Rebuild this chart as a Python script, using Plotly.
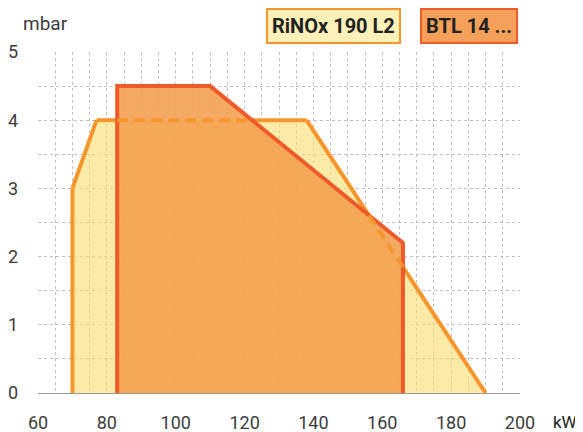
import plotly.graph_objects as go

# ---- data ----
rinox_name = "RiNOx 190 L2"
rinox_kw = [70, 70, 77, 138, 190]
rinox_mbar = [0, 3, 4, 4, 0]

btl_name = "BTL 14 ..."
btl_kw = [83, 83, 110, 166, 166]
btl_mbar = [0, 4.5, 4.5, 2.2, 0]

x_ticks = [60, 80, 100, 120, 140, 160, 180, 200]
y_ticks = [0, 1, 2, 3, 4, 5]

# ---- styles ----
FONT = "Roboto, sans-serif"
TXT = "#3c3c3c"
RINOX_FILL = "rgba(250,220,110,0.6)"
RINOX_LINE = "#f7962d"
BTL_FILL = "rgba(242,158,76,0.88)"
BTL_LINE = "#ee5a28"
GRID = "#c0c0c0"


def clip_params(p0, p1, poly):
    """Cyrus-Beck: parameter interval [t0, t1] of segment p0-p1 inside convex polygon."""
    n = len(poly)
    area = 0
    for i in range(n):
        x1, y1 = poly[i]
        x2, y2 = poly[(i + 1) % n]
        area += x1 * y2 - x2 * y1
    sgn = 1 if area > 0 else -1
    t0, t1 = 0.0, 1.0
    dx, dy = p1[0] - p0[0], p1[1] - p0[1]
    for i in range(n):
        ax, ay = poly[i]
        bx, by = poly[(i + 1) % n]
        ex, ey = bx - ax, by - ay
        nx, ny = -ey * sgn, ex * sgn
        num = nx * (p0[0] - ax) + ny * (p0[1] - ay)
        den = nx * dx + ny * dy
        if abs(den) < 1e-12:
            if num < 0:
                return None
            continue
        t = -num / den
        if den > 0:
            t0 = max(t0, t)
        else:
            t1 = min(t1, t)
        if t0 > t1:
            return None
    if t1 - t0 < 1e-9:
        return None
    return t0, t1


def lerp(p0, p1, t):
    return (p0[0] + t * (p1[0] - p0[0]), p0[1] + t * (p1[1] - p0[1]))


btl_poly = list(zip(btl_kw, btl_mbar))
vis_x, vis_y, hid_x, hid_y = [], [], [], []
for i in range(len(rinox_kw) - 1):
    p0 = (rinox_kw[i], rinox_mbar[i])
    p1 = (rinox_kw[i + 1], rinox_mbar[i + 1])
    tt = clip_params(p0, p1, btl_poly)
    pieces_vis = [(0.0, 1.0)] if tt is None else [(0.0, tt[0]), (tt[1], 1.0)]
    for a, b in pieces_vis:
        if b - a > 1e-9:
            qa, qb = lerp(p0, p1, a), lerp(p0, p1, b)
            vis_x += [qa[0], qb[0], None]
            vis_y += [qa[1], qb[1], None]
    if tt is not None:
        qa, qb = lerp(p0, p1, tt[0]), lerp(p0, p1, tt[1])
        hid_x += [qa[0], qb[0], None]
        hid_y += [qa[1], qb[1], None]

fig = go.Figure()
# RiNOx area (fill only)
fig.add_trace(go.Scatter(x=rinox_kw, y=rinox_mbar, mode="none", fill="toself",
                         fillcolor=RINOX_FILL, name=rinox_name, showlegend=False,
                         hoverinfo="skip"))
# RiNOx visible outline
fig.add_trace(go.Scatter(x=vis_x, y=vis_y, mode="lines",
                         line=dict(color=RINOX_LINE, width=4),
                         showlegend=False, hoverinfo="skip"))
# BTL area + outline
fig.add_trace(go.Scatter(x=btl_kw, y=btl_mbar, mode="lines", fill="toself",
                         fillcolor=BTL_FILL, line=dict(color=BTL_LINE, width=4),
                         name=btl_name, showlegend=False, hoverinfo="skip"))
# RiNOx outline hidden behind BTL (dashed)
fig.add_trace(go.Scatter(x=hid_x, y=hid_y, mode="lines",
                         line=dict(color=RINOX_LINE, width=4, dash="11px,6px"),
                         showlegend=False, hoverinfo="skip"))

# the page adds an 8px body margin, so the figure is sized to fit the window
fig.update_layout(
    width=575, height=424,
    margin=dict(l=30, r=63, t=44, b=39),
    paper_bgcolor="white", plot_bgcolor="white",
    font=dict(family=FONT, color=TXT, size=18),
    xaxis=dict(range=[60, 200], tickvals=x_ticks, showgrid=True, gridcolor=GRID,
               griddash="dot", gridwidth=1, zeroline=False, showline=True,
               linecolor="#9a9a9a", linewidth=1, ticks="", ticklabelstandoff=13,
               automargin=False,
               minor=dict(dtick=5, showgrid=True, gridcolor=GRID, griddash="dot", gridwidth=1)),
    yaxis=dict(range=[0, 5], tickvals=y_ticks, showgrid=True, gridcolor=GRID,
               griddash="dot", gridwidth=1, zeroline=False, showline=False,
               ticks="", ticklabelstandoff=19, automargin=False,
               minor=dict(dtick=0.5, showgrid=True, gridcolor=GRID, griddash="dot", gridwidth=1)),
    annotations=[
        dict(text="mbar", xref="paper", yref="paper", x=0.015, y=1.085,
             xanchor="center", yanchor="middle", showarrow=False, font=dict(size=19)),
        dict(text="kW", xref="paper", yref="paper", x=1.093, y=-0.085,
             xanchor="center", yanchor="middle", showarrow=False,
             font=dict(size=17, color="#222")),
        dict(text=rinox_name, xref="paper", yref="paper", x=0.613, y=1.076,
             xanchor="center", yanchor="middle", showarrow=False,
             font=dict(size=20, color="#222", weight="bold"),
             bgcolor="#fdf0b8", bordercolor=RINOX_LINE, borderwidth=2, borderpad=4),
        dict(text=btl_name, xref="paper", yref="paper", x=0.895, y=1.076,
             xanchor="center", yanchor="middle", showarrow=False,
             font=dict(size=20, color="#222", weight="bold"),
             bgcolor="#f5a05a", bordercolor=BTL_LINE, borderwidth=2, borderpad=4),
    ],
)

fig.write_html("out.html")
